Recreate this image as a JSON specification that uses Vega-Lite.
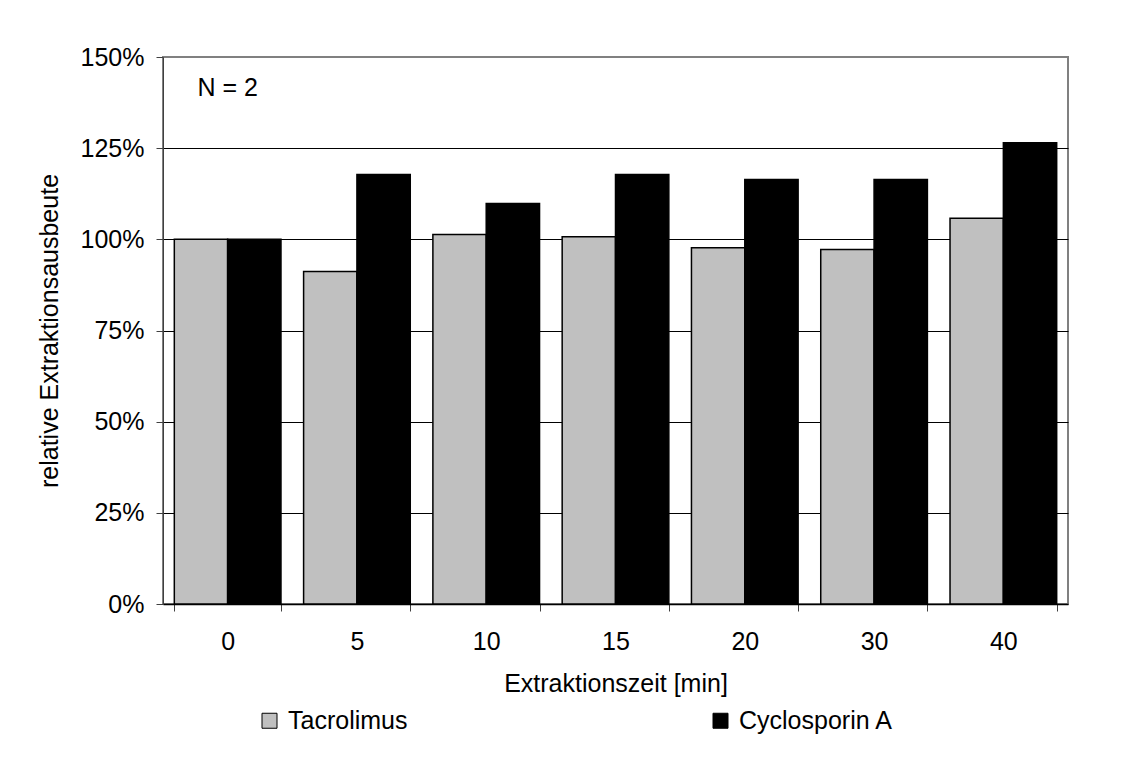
{
  "$schema": "https://vega.github.io/schema/vega-lite/v6.json",
  "width": 905,
  "height": 547,
  "autosize": {"type": "none"},
  "padding": {"left": 163, "top": 57, "right": 80, "bottom": 164},
  "background": "white",
  "config": {
    "font": "Liberation Sans",
    "view": {"stroke": "#808080", "strokeWidth": 2},
    "axis": {"labelFont": "Liberation Sans", "titleFont": "Liberation Sans", "labelFontSize": 25, "titleFontSize": 25, "labelColor": "black", "titleColor": "black", "titleFontWeight": "normal", "tickColor": "#404040", "domainColor": "#404040"},
    "legend": {"labelFont": "Liberation Sans", "labelFontSize": 25, "labelColor": "black"}
  },
  "layer": [
    {
      "data": {
        "values": [
          {"zeit": "0", "substanz": "Tacrolimus", "wert": 1.00},
          {"zeit": "0", "substanz": "Cyclosporin A", "wert": 1.00},
          {"zeit": "5", "substanz": "Tacrolimus", "wert": 0.912},
          {"zeit": "5", "substanz": "Cyclosporin A", "wert": 1.178},
          {"zeit": "10", "substanz": "Tacrolimus", "wert": 1.013},
          {"zeit": "10", "substanz": "Cyclosporin A", "wert": 1.098},
          {"zeit": "15", "substanz": "Tacrolimus", "wert": 1.007},
          {"zeit": "15", "substanz": "Cyclosporin A", "wert": 1.178},
          {"zeit": "20", "substanz": "Tacrolimus", "wert": 0.977},
          {"zeit": "20", "substanz": "Cyclosporin A", "wert": 1.164},
          {"zeit": "30", "substanz": "Tacrolimus", "wert": 0.972},
          {"zeit": "30", "substanz": "Cyclosporin A", "wert": 1.164},
          {"zeit": "40", "substanz": "Tacrolimus", "wert": 1.058},
          {"zeit": "40", "substanz": "Cyclosporin A", "wert": 1.265}
        ]
      },
      "mark": {"type": "bar", "stroke": "black", "strokeWidth": 1.5},
      "encoding": {
        "x": {
          "field": "zeit", "type": "nominal",
          "sort": ["0", "5", "10", "15", "20", "30", "40"],
          "scale": {"paddingInner": 0.175, "paddingOuter": 0.0875},
          "axis": {"title": "Extraktionszeit [min]", "labelAngle": 0, "tickBand": "extent", "tickSize": 7, "labelPadding": 18, "titlePadding": 17, "domainColor": "black", "domainWidth": 1.5, "grid": false}
        },
        "xOffset": {
          "field": "substanz", "type": "nominal",
          "sort": ["Tacrolimus", "Cyclosporin A"],
          "scale": {"paddingInner": 0, "paddingOuter": 0}
        },
        "y": {
          "field": "wert", "type": "quantitative",
          "scale": {"domain": [0, 1.5], "nice": false},
          "axis": {
            "title": "relative Extraktionsausbeute",
            "values": [0, 0.25, 0.5, 0.75, 1.0, 1.25, 1.5],
            "format": ".0%",
            "tickSize": 7,
            "labelPadding": 12,
            "titlePadding": 18,
            "grid": true,
            "gridColor": {"condition": {"test": "datum.value >= 1.5 || datum.value <= 0", "value": "#808080"}, "value": "black"},
            "gridWidth": 1
          }
        },
        "color": {
          "field": "substanz", "type": "nominal",
          "sort": ["Tacrolimus", "Cyclosporin A"],
          "scale": {"domain": ["Tacrolimus", "Cyclosporin A"], "range": ["#C0C0C0", "#000000"]},
          "legend": {
            "title": null,
            "orient": "none",
            "direction": "horizontal",
            "columns": 2,
            "legendX": 94,
            "legendY": 651,
            "padding": 0,
            "symbolType": "square",
            "symbolSize": 225,
            "symbolStrokeColor": "black",
            "symbolStrokeWidth": 1,
            "symbolOpacity": 1,
            "labelOffset": 6,
            "columnPadding": 300
          }
        }
      }
    },
    {
      "data": {"values": [{"zeit": "0", "wert": 1.415, "label": "N = 2"}]},
      "mark": {"type": "text", "fontSize": 25, "font": "Liberation Sans", "color": "black", "align": "center", "baseline": "middle"},
      "encoding": {
        "x": {"field": "zeit", "type": "nominal", "sort": ["0", "5", "10", "15", "20", "30", "40"]},
        "y": {"field": "wert", "type": "quantitative"},
        "text": {"field": "label"}
      }
    }
  ]
}
